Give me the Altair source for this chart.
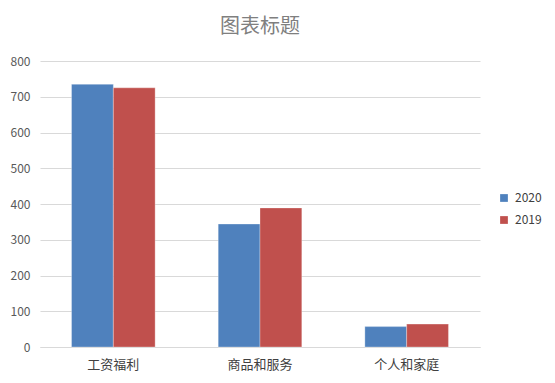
import altair as alt
import pandas as pd

categories = ["工资福利", "商品和服务", "个人和家庭"]
series = ["2020", "2019"]
values_2020 = [735, 344, 57]
values_2019 = [725, 389, 64]

rows = []
for i, c in enumerate(categories):
    rows.append({"cat": c, "year": "2020", "value": values_2020[i]})
    rows.append({"cat": c, "year": "2019", "value": values_2019[i]})
df = pd.DataFrame(rows)

font = "Noto Sans CJK SC"

chart = alt.Chart(df).mark_bar(stroke="white", strokeWidth=0.5, strokeOpacity=0.6).encode(
    x=alt.X("cat:N", sort=categories, title=None,
            scale=alt.Scale(paddingInner=0.43, paddingOuter=0.215),
            axis=alt.Axis(labelAngle=0, labelFontSize=13, labelColor="#404040", labelFont=font,
                          ticks=False, domainColor="#D9D9D9", labelPadding=11)),
    xOffset=alt.XOffset("year:N", sort=series),
    y=alt.Y("value:Q", title=None,
            scale=alt.Scale(domain=[0, 800], nice=False),
            axis=alt.Axis(values=list(range(0, 801, 100)), labelFontSize=12, labelColor="#595959",
                          labelFont=font, ticks=False, domain=False, gridColor="#D9D9D9",
                          labelPadding=10)),
    color=alt.Color("year:N", sort=series,
                    scale=alt.Scale(domain=series, range=["#4F81BD", "#C0504D"]),
                    legend=alt.Legend(title=None, orient="none", legendX=458, legendY=131,
                                      symbolType="square", symbolSize=60, labelFontSize=12,
                                      labelColor="#404040", labelFont=font, rowPadding=10,
                                      labelOffset=5, symbolStrokeWidth=0)),
).properties(
    width=440, height=286,
    title=alt.TitleParams("图表标题", fontSize=20, color="#7F7F7F", font=font,
                          fontWeight="normal", anchor="middle", offset=18),
    autosize=alt.AutoSizeParams(type="none"),
    padding={"left": 32, "top": 53, "right": 65, "bottom": 24},
).configure_view(stroke=None)

chart.save("out.html", embed_options={"renderer": "svg", "actions": False})
